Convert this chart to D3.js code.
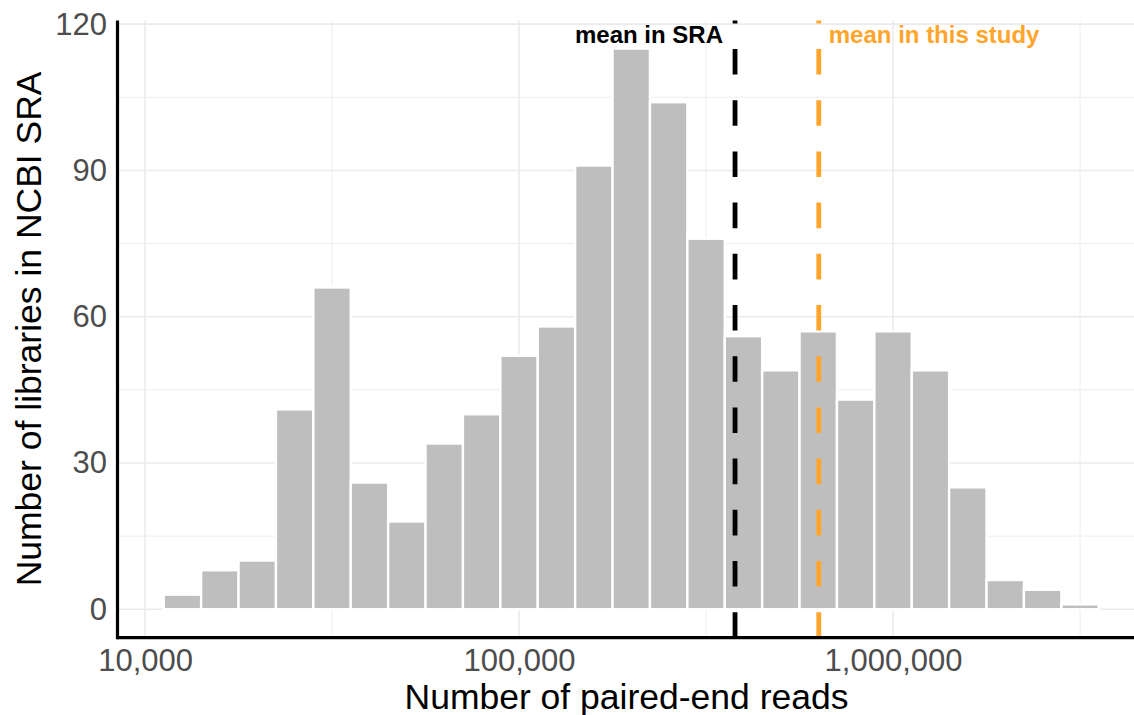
<!DOCTYPE html>
<html>
<head>
<meta charset="utf-8">
<script src="https://cdn.jsdelivr.net/npm/d3@7"></script>
<style>
  html, body { margin: 0; padding: 0; background: #fff; }
  svg { display: block; font-family: "Liberation Sans", Arial, Helvetica, sans-serif; }
</style>
</head>
<body>
<svg id="chart" width="1134" height="715"></svg>
<script>
// ---- data ----
// histogram bins on log10 scale (bin width 0.1 in log10 units), centres:
const binCentersLog10 = [4.1, 4.2, 4.3, 4.4, 4.5, 4.6, 4.7, 4.8, 4.9, 5.0, 5.1, 5.2, 5.3,
                         5.4, 5.5, 5.6, 5.7, 5.8, 5.9, 6.0, 6.1, 6.2, 6.3, 6.4, 6.5];
const counts = [3, 8, 10, 41, 66, 26, 18, 34, 40, 52, 58, 91, 115,
                104, 76, 56, 49, 57, 43, 57, 49, 25, 6, 4, 1];
const binWidthLog10 = 0.1;
const xTickValues = [10000, 100000, 1000000];
const xMinorValues = [Math.pow(10, 4.5), Math.pow(10, 5.5), Math.pow(10, 6.5)];
const yTickValues = [0, 30, 60, 90, 120];
const yMinorValues = [15, 45, 75, 105];
const meanLines = [
  { label: "mean in SRA", value: 378000, color: "#000000", anchor: "end" },
  { label: "mean in this study", value: 633000, color: "#FFA52C", anchor: "start" }
];
const xTitle = "Number of paired-end reads";
const yTitle = "Number of libraries in NCBI SRA";

// ---- layout ----
const svg = d3.select("#chart");
const panel = { left: 117, right: 1145.5, top: 20.5, bottom: 637.3 };

const x = d3.scaleLog()
  .domain([Math.pow(10, 3.925), Math.pow(10, 6.675)])
  .range([panel.left, panel.right]);
const y = d3.scaleLinear()
  .domain([-5.75, 120.75])
  .range([panel.bottom, panel.top]);

const grid = svg.append("g");
// minor gridlines
grid.selectAll("line.ymin").data(yMinorValues).join("line")
  .attr("x1", panel.left).attr("x2", panel.right)
  .attr("y1", d => y(d)).attr("y2", d => y(d))
  .attr("stroke", "#ededed").attr("stroke-width", 1);
grid.selectAll("line.xmin").data(xMinorValues).join("line")
  .attr("y1", panel.top).attr("y2", panel.bottom)
  .attr("x1", d => x(d)).attr("x2", d => x(d))
  .attr("stroke", "#ededed").attr("stroke-width", 1);
// major gridlines
grid.selectAll("line.ymaj").data(yTickValues).join("line")
  .attr("x1", panel.left).attr("x2", panel.right)
  .attr("y1", d => y(d)).attr("y2", d => y(d))
  .attr("stroke", "#ebebeb").attr("stroke-width", 1.6);
grid.selectAll("line.xmaj").data(xTickValues).join("line")
  .attr("y1", panel.top).attr("y2", panel.bottom)
  .attr("x1", d => x(d)).attr("x2", d => x(d))
  .attr("stroke", "#ebebeb").attr("stroke-width", 1.6);

// bars
const bins = binCentersLog10.map((c, i) => ({ c, n: counts[i] }));
svg.append("g").selectAll("rect").data(bins).join("rect")
  .attr("x", d => x(Math.pow(10, d.c - binWidthLog10 / 2)))
  .attr("width", d => x(Math.pow(10, d.c + binWidthLog10 / 2)) - x(Math.pow(10, d.c - binWidthLog10 / 2)))
  .attr("y", d => y(d.n))
  .attr("height", d => y(0) - y(d.n))
  .attr("fill", "#bebebe")
  .attr("stroke", "#ffffff")
  .attr("stroke-width", 2.4);

// mean lines
const ml = svg.append("g");
ml.selectAll("line").data(meanLines).join("line")
  .attr("x1", d => x(d.value)).attr("x2", d => x(d.value))
  .attr("y1", panel.bottom + 0.5).attr("y2", panel.top)
  .attr("stroke", d => d.color)
  .attr("stroke-width", 4.8)
  .attr("stroke-dasharray", "25.6 25.6");
ml.selectAll("text").data(meanLines).join("text")
  .attr("x", d => x(d.value) + (d.anchor === "end" ? -12 : 10))
  .attr("y", 42.7)
  .attr("text-anchor", d => d.anchor)
  .attr("font-weight", "bold")
  .attr("font-size", "24px")
  .attr("fill", d => d.color)
  .text(d => d.label);

// axes
const xAxis = d3.axisBottom(x).tickValues(xTickValues).tickFormat(d3.format(",")).tickSize(0).tickPadding(12);
const gx = svg.append("g").attr("transform", `translate(0,${panel.bottom})`).call(xAxis);
gx.select(".domain").remove();
gx.selectAll("text").attr("font-size", "31px").attr("fill", "#4d4d4d")
  .attr("font-family", "Liberation Sans, Arial, Helvetica, sans-serif");

const yAxis = d3.axisLeft(y).tickValues(yTickValues).tickSize(0).tickPadding(10);
const gy = svg.append("g").attr("transform", `translate(${panel.left},0)`).call(yAxis);
gy.select(".domain").remove();
gy.selectAll("text").attr("font-size", "31px").attr("fill", "#4d4d4d")
  .attr("font-family", "Liberation Sans, Arial, Helvetica, sans-serif");

// axis lines
svg.append("line")
  .attr("x1", panel.left).attr("x2", 1134)
  .attr("y1", 637.7).attr("y2", 637.7)
  .attr("stroke", "#000").attr("stroke-width", 3.2);
svg.append("line")
  .attr("x1", 117.5).attr("x2", 117.5)
  .attr("y1", panel.top).attr("y2", 639.3)
  .attr("stroke", "#000").attr("stroke-width", 3.2);

// titles
svg.append("text")
  .attr("x", (panel.left + 1134) / 2 + 1)
  .attr("y", 708.5)
  .attr("text-anchor", "middle")
  .attr("font-size", "35.5px")
  .attr("fill", "#000")
  .text(xTitle);
svg.append("text")
  .attr("transform", `translate(40.5,${(panel.top + panel.bottom) / 2}) rotate(-90)`)
  .attr("text-anchor", "middle")
  .attr("font-size", "35.5px")
  .attr("fill", "#000")
  .text(yTitle);
</script>
</body>
</html>
